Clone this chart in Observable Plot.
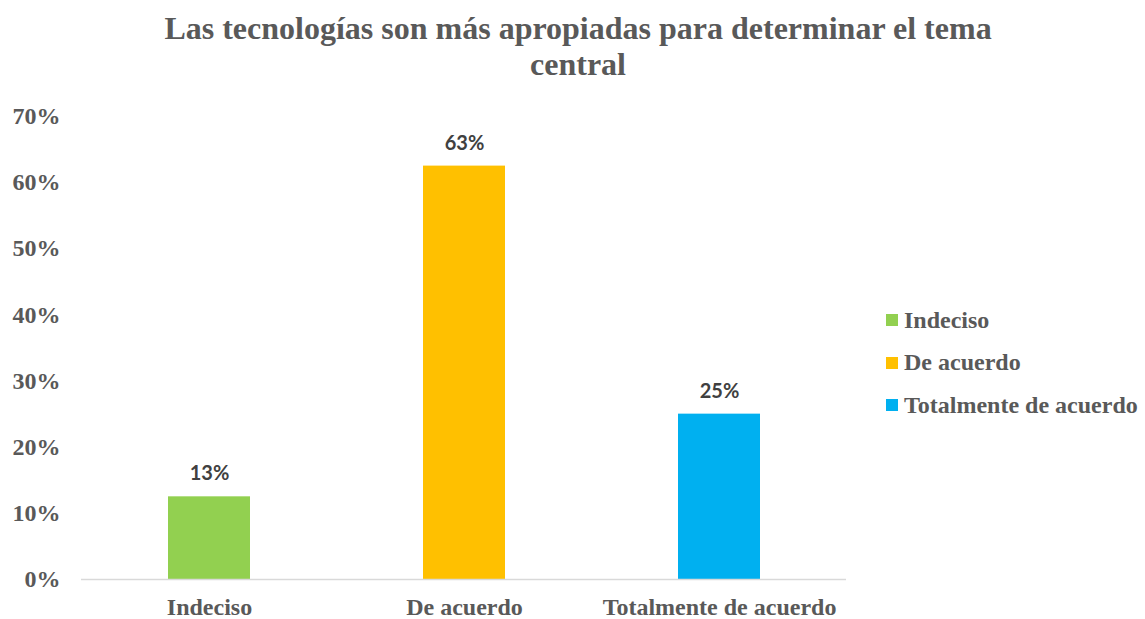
<!DOCTYPE html>
<html><head><meta charset="utf-8">
<script src="https://cdn.jsdelivr.net/npm/d3@7"></script>
<script src="https://cdn.jsdelivr.net/npm/@observablehq/plot@0.6"></script>
<style>
body{margin:0;background:#fff;width:1145px;height:619px;position:relative;overflow:hidden;font-family:"Liberation Serif",serif;}
#title{position:absolute;top:10px;left:0;width:1156px;text-align:center;font-weight:bold;font-size:32px;line-height:36px;color:#595959;}
#chart{position:absolute;top:90px;left:0;}
#legend{position:absolute;left:886px;top:299px;font-weight:bold;font-size:24px;color:#595959;}
.item{display:flex;align-items:center;height:42.5px;}
.sw{width:12px;height:12px;margin-right:6px;}
</style></head>
<body>
<div id="title">Las tecnologías son más apropiadas para determinar el tema<br>central</div>
<div id="chart"></div>
<div id="legend"></div>
<script>
const categories = ["Indeciso", "De acuerdo", "Totalmente de acuerdo"];
const values = [0.125, 0.625, 0.25];
const colors = ["#92d050", "#ffc000", "#00b0f0"];
const yTicks = [0, 0.1, 0.2, 0.3, 0.4, 0.5, 0.6, 0.7];

const data = categories.map((c, i) => ({category: c, value: values[i]}));

const plot = Plot.plot({
  width: 860,
  height: 529,
  marginLeft: 81,
  marginRight: 14,
  marginTop: 26,
  marginBottom: 40,
  style: {fontFamily: "'Liberation Serif', serif", fontWeight: "bold", fontSize: "24px", color: "#595959", background: "white"},
  x: {domain: categories, paddingInner: 0.68, paddingOuter: 0.34, label: null, tickSize: 0, tickPadding: 18},
  y: {domain: [0, 0.7], ticks: yTicks, tickFormat: d => Math.round(d * 100) + "%", label: null, tickSize: 0, tickPadding: 21},
  color: {domain: categories, range: colors},
  marks: [
    Plot.barY(data, {x: "category", y: "value", fill: "category"}),
    Plot.ruleY([0], {stroke: "#d9d9d9", strokeWidth: 1.5}),
    Plot.text(data, {x: "category", y: "value", text: d => Math.round(d.value * 100) + "%", dy: -23, lineAnchor: "middle",
      fill: "#404040", fontFamily: "Lato, 'Open Sans', sans-serif", fontWeight: "bold", fontSize: 20})
  ]
});
document.getElementById("chart").appendChild(plot);

const legend = document.getElementById("legend");
categories.forEach((c, i) => {
  const it = document.createElement("div");
  it.className = "item";
  const sw = document.createElement("div");
  sw.className = "sw";
  sw.style.background = colors[i];
  const t = document.createElement("span");
  t.textContent = c;
  it.appendChild(sw); it.appendChild(t);
  legend.appendChild(it);
});
</script>
</body></html>
